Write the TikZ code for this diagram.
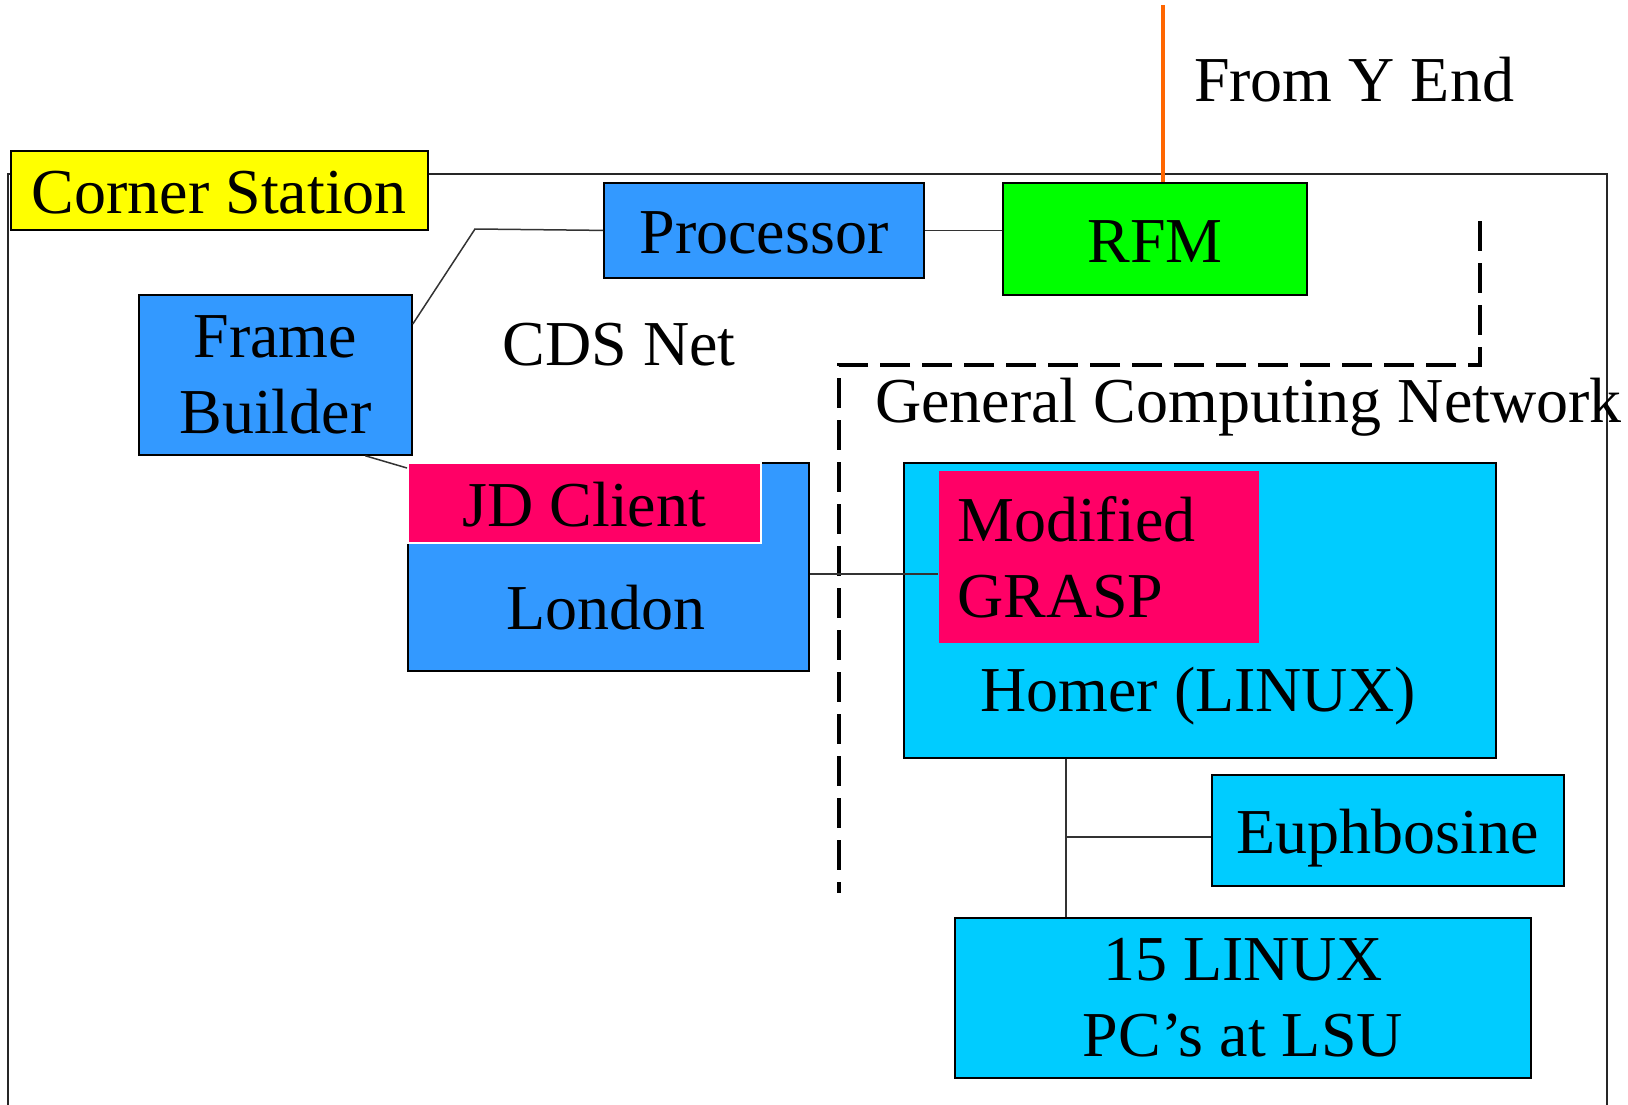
\documentclass[tikz,border=0pt]{standalone}
\usepackage{fontspec}
\setmainfont{Liberation Serif}

\definecolor{cornerYellow}{RGB}{255,255,0}
\definecolor{cdsBlue}{RGB}{51,153,255}
\definecolor{gcnCyan}{RGB}{0,204,255}
\definecolor{clientPink}{RGB}{255,0,102}
\definecolor{rfmGreen}{RGB}{0,255,0}
\definecolor{yendOrange}{RGB}{255,102,0}

\tikzset{
	box/.style={draw=black, line width=1.8pt, inner sep=0pt, anchor=north west, align=center},
	oneline/.style={text height=47pt, text depth=0pt},
	link/.style={draw=black!80, line width=1.5pt},
	frame/.style={draw=black!85, line width=1.5pt},
	gcnline/.style={draw=black, line width=4.5pt, dash pattern=on 30pt off 12pt},
	txt/.style={inner sep=0pt, align=center},
}

\begin{document}
\begin{tikzpicture}[x=1pt,y=1pt,yscale=-1,xscale=1,font=\fontsize{64}{76}\selectfont]
		\useasboundingbox (0,0) rectangle (1628,1105);
		
		% outer frame of the corner station
		\draw[frame] (8,1105) |- (1607,174) -- (1607,1105);
		
		% General Computing Network boundary
		\draw[gcnline] (1480,221) |- (839,365) -- (839,893);
		
		% boxes
		\node[box, oneline, fill=cornerYellow, minimum width=417pt, minimum height=79pt] (corner) at (10,150) {Corner Station};
		\node[box, oneline, fill=cdsBlue, minimum width=320pt, minimum height=95pt] (proc) at (603,182) {Processor};
		\node[box, oneline, fill=rfmGreen, minimum width=304pt, minimum height=112pt] (rfm) at (1002,182) {RFM};
		\node[box, fill=cdsBlue, minimum width=273pt, minimum height=160pt] (fb) at (138,294) {Frame\\Builder};
		\node[box, fill=cdsBlue, minimum width=401pt, minimum height=208pt] (london) at (407,462) {};
		\node[box, oneline, draw=white, fill=clientPink, minimum width=353pt, minimum height=80pt] (jd) at (407,462) {JD Client};
		\node[box, fill=gcnCyan, minimum width=592pt, minimum height=295pt] (homer) at (903,462) {};
		\node[box, draw=none, fill=clientPink, minimum width=320pt, minimum height=172pt] (grasp) at (938,470) {};
		\node[box, oneline, fill=gcnCyan, minimum width=352pt, minimum height=111pt] (euph) at (1211,774) {Euphbosine};
		\node[box, fill=gcnCyan, minimum width=576pt, minimum height=160pt] (pcs) at (954,917) {15 LINUX\\PC’s at LSU};
		
		% texts
		\node[txt, oneline] (londontxt) at (606,606) {London};
		\node[txt, anchor=west, align=left] (grasptxt) at ([xshift=19pt]grasp.west) {Modified\\GRASP};
		\node[txt, oneline] (homertxt) at (1198,688) {Homer (LINUX)};
		\node[txt, oneline] (cds) at (619,342) {CDS Net};
		\node[txt, oneline] (fromy) at (1354,78) {From Y End};
		\node[txt, oneline, anchor=west] (gcn) at (875,399) {General Computing Network};
		
		% connectors
		\coordinate (bend) at (475,229);
		\coordinate (tap) at (1066,837);
		\coordinate (yend) at (1163,5);
		\draw[link] (proc.east) -- (proc.east -| rfm.west);
		\draw[link] (proc.west) -- (bend) -- ([yshift=30pt]fb.north east);
		\draw[link] ([xshift=90pt]fb.south) -- ([yshift=6pt]jd.north west);
		\draw[link] ([yshift=7pt]london.east) -- ([yshift=7pt]london.east -| grasp.west);
		\draw[link] (tap |- homer.south) -- (tap |- pcs.north);
		\draw[link] (tap) -- (tap -| euph.west);
		\draw[yendOrange, line width=3.5pt] (yend) -- (yend |- rfm.north);
	\end{tikzpicture}
\end{document}
